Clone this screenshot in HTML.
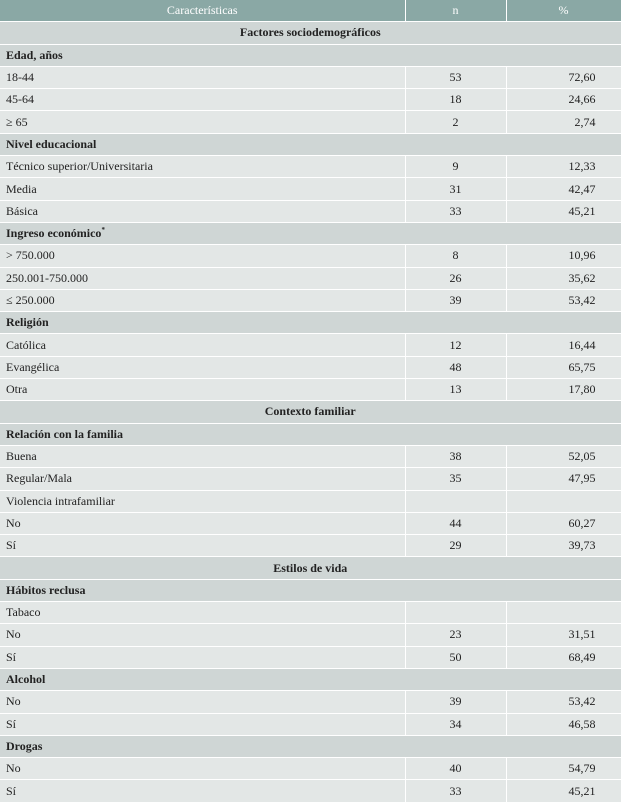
<!DOCTYPE html>
<html><head><meta charset="utf-8"><style>
body{margin:0;background:#fff;width:624px;height:803px;overflow:hidden}
table{border-collapse:collapse;table-layout:fixed;width:621px;font-family:"Liberation Serif",serif;font-size:12px;color:#222}
td{height:21.3px;padding:0;border-bottom:1px solid #fff;border-right:1px solid #fff;white-space:nowrap;overflow:hidden}
tr.h td{background:#8aa8a5;color:#fff;text-align:center}
tr.s td{background:#cfd6d5;text-align:center;font-weight:bold}
tr.g td{background:#cfd6d5;font-weight:bold;padding-left:6px}
tr.d td{background:#e3e7e6}
tr.d td:first-child{padding-left:6px}
tr.d td:nth-child(2){text-align:center}
tr.d td:nth-child(3){text-align:right;padding-right:25px}
</style></head><body>
<table>
<colgroup><col style="width:405px"><col style="width:101px"><col style="width:115px"></colgroup>
<tr class="h"><td>Características</td><td>n</td><td>%</td></tr>
<tr class="s"><td colspan="3">Factores sociodemográficos</td></tr>
<tr class="g"><td colspan="3">Edad, años</td></tr>
<tr class="d"><td>18-44</td><td>53</td><td>72,60</td></tr>
<tr class="d"><td>45-64</td><td>18</td><td>24,66</td></tr>
<tr class="d"><td>≥ 65</td><td>2</td><td>2,74</td></tr>
<tr class="g"><td colspan="3">Nivel educacional</td></tr>
<tr class="d"><td>Técnico superior/Universitaria</td><td>9</td><td>12,33</td></tr>
<tr class="d"><td>Media</td><td>31</td><td>42,47</td></tr>
<tr class="d"><td>Básica</td><td>33</td><td>45,21</td></tr>
<tr class="g"><td colspan="3">Ingreso económico<sup style="font-size:7px">*</sup></td></tr>
<tr class="d"><td>&gt; 750.000</td><td>8</td><td>10,96</td></tr>
<tr class="d"><td>250.001-750.000</td><td>26</td><td>35,62</td></tr>
<tr class="d"><td>≤ 250.000</td><td>39</td><td>53,42</td></tr>
<tr class="g"><td colspan="3">Religión</td></tr>
<tr class="d"><td>Católica</td><td>12</td><td>16,44</td></tr>
<tr class="d"><td>Evangélica</td><td>48</td><td>65,75</td></tr>
<tr class="d"><td>Otra</td><td>13</td><td>17,80</td></tr>
<tr class="s"><td colspan="3">Contexto familiar</td></tr>
<tr class="g"><td colspan="3">Relación con la familia</td></tr>
<tr class="d"><td>Buena</td><td>38</td><td>52,05</td></tr>
<tr class="d"><td>Regular/Mala</td><td>35</td><td>47,95</td></tr>
<tr class="d"><td>Violencia intrafamiliar</td><td></td><td></td></tr>
<tr class="d"><td>No</td><td>44</td><td>60,27</td></tr>
<tr class="d"><td>Sí</td><td>29</td><td>39,73</td></tr>
<tr class="s"><td colspan="3">Estilos de vida</td></tr>
<tr class="g"><td colspan="3">Hábitos reclusa</td></tr>
<tr class="d"><td>Tabaco</td><td></td><td></td></tr>
<tr class="d"><td>No</td><td>23</td><td>31,51</td></tr>
<tr class="d"><td>Sí</td><td>50</td><td>68,49</td></tr>
<tr class="g"><td colspan="3">Alcohol</td></tr>
<tr class="d"><td>No</td><td>39</td><td>53,42</td></tr>
<tr class="d"><td>Sí</td><td>34</td><td>46,58</td></tr>
<tr class="g"><td colspan="3">Drogas</td></tr>
<tr class="d"><td>No</td><td>40</td><td>54,79</td></tr>
<tr class="d"><td>Sí</td><td>33</td><td>45,21</td></tr>
</table>
</body></html>
